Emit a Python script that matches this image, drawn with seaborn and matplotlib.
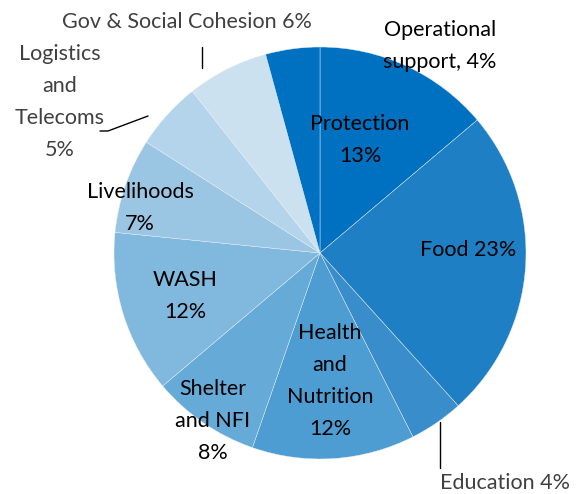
import matplotlib
matplotlib.use("Agg")
import matplotlib.pyplot as plt
import seaborn as sns
import numpy as np

sns.set_theme(style="white")
plt.rcParams["font.family"] = ["Lato", "DejaVu Sans"]

# Funding share by sector (clockwise from 12 o'clock)
sectors = ["Protection", "Food", "Education", "Health and Nutrition", "Shelter and NFI",
           "WASH", "Livelihoods", "Logistics and Telecoms", "Gov & Social Cohesion",
           "Operational support"]
shares = [13, 23, 4, 12, 8, 12, 7, 5, 6, 4]
labels = ["Protection\n13%", "Food 23%", "Education 4%", "Health\nand\nNutrition\n12%",
          "Shelter\nand NFI\n8%", "WASH\n12%", "Livelihoods\n7%",
          "Logistics\nand\nTelecoms\n5%", "Gov & Social Cohesion 6%",
          "Operational\nsupport, 4%"]
colors = ["#0070C0", "#1F7FC4", "#3A8DCB", "#4D9DD3", "#66AAD8", "#80B8DE",
          "#9AC6E4", "#B3D4EA", "#CCE1F0", "#0070C0"]

# label anchor positions in pixels (x, y from top), and whether outside (grey)
label_pos = [(360, 140), (468, 250), (505, 483), (330, 381), (213, 421), (185, 296),
             (140, 208), (60, 102), (187, 22), (440, 46)]
outside = [False, False, True, False, False, False, False, True, True, False]

W, H = 587, 494
fig = plt.figure(figsize=(W / 100, H / 100), dpi=100)
ax = fig.add_axes([0, 0, 1, 1])

cx, cy, r = 320, H - 253, 206
ax.pie(shares, colors=colors, startangle=90, counterclock=False,
       center=(cx, cy), radius=r, frame=True,
       wedgeprops=dict(edgecolor="#e8f0f8", linewidth=0.3))
ax.set_xlim(0, W)
ax.set_ylim(0, H)
ax.set_aspect("equal")
ax.axis("off")

for lab, (x, y), out in zip(labels, label_pos, outside):
    ax.text(x, H - y, lab, ha="center", va="center", fontsize=15.5,
            color="#404040" if out else "black", linespacing=1.75)

# leader lines
ax.plot([202, 202], [H - 47, H - 68], color="black", lw=1)
ax.plot([100, 108, 148], [H - 131, H - 131, H - 116], color="black", lw=1)
ax.plot([440, 440], [H - 422, H - 468], color="black", lw=1)

fig.savefig("out.png", dpi=100)
